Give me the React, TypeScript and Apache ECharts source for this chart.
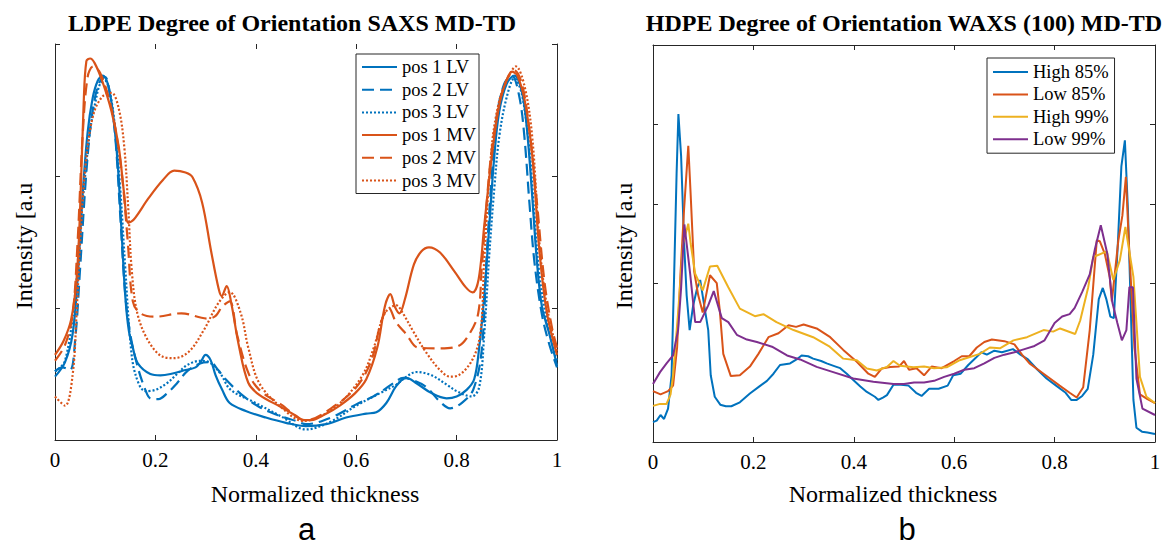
import React, { useEffect, useRef } from 'react';
import * as echarts from 'echarts';

// ---------- Panel a: LDPE SAXS (x: normalized thickness, y: intensity a.u.) ----------
const pos1LV: number[][] = [[0,0.48],[0.02,0.59],[0.035,0.80],[0.045,1.22],[0.055,1.86],[0.065,2.33],[0.075,2.59],[0.085,2.72],[0.095,2.76],[0.105,2.70],[0.115,2.49],[0.125,2.09],[0.132,1.62],[0.14,1.09],[0.147,0.83],[0.155,0.70],[0.165,0.58],[0.19,0.50],[0.21,0.49],[0.23,0.50],[0.26,0.53],[0.28,0.55],[0.29,0.59],[0.30,0.645],[0.31,0.605],[0.32,0.49],[0.333,0.38],[0.348,0.28],[0.38,0.22],[0.42,0.17],[0.46,0.13],[0.50,0.105],[0.54,0.12],[0.58,0.17],[0.62,0.20],[0.64,0.21],[0.66,0.28],[0.68,0.41],[0.70,0.47],[0.72,0.43],[0.75,0.355],[0.78,0.316],[0.80,0.33],[0.82,0.38],[0.835,0.46],[0.845,0.70],[0.855,1.09],[0.865,1.62],[0.875,2.145],[0.885,2.49],[0.90,2.70],[0.915,2.76],[0.93,2.64],[0.94,2.36],[0.95,1.88],[0.96,1.355],[0.97,1.01],[0.985,0.80],[1.0,0.565]];
const pos2LV: number[][] = [[0,0.52],[0.015,0.55],[0.03,0.53],[0.04,0.75],[0.05,1.3],[0.06,1.9],[0.07,2.35],[0.08,2.6],[0.09,2.72],[0.1,2.75],[0.11,2.6],[0.12,2.3],[0.13,1.7],[0.14,1.1],[0.15,0.8],[0.165,0.55],[0.18,0.38],[0.19,0.315],[0.206,0.31],[0.225,0.36],[0.243,0.43],[0.263,0.52],[0.289,0.58],[0.309,0.59],[0.325,0.53],[0.34,0.46],[0.37,0.35],[0.407,0.25],[0.45,0.18],[0.48,0.145],[0.5,0.12],[0.55,0.17],[0.6,0.27],[0.634,0.33],[0.655,0.38],[0.674,0.43],[0.694,0.47],[0.715,0.45],[0.74,0.40],[0.767,0.29],[0.787,0.24],[0.81,0.28],[0.833,0.38],[0.85,0.68],[0.86,1.4],[0.87,2.0],[0.88,2.45],[0.895,2.7],[0.91,2.76],[0.925,2.6],[0.935,2.3],[0.945,1.8],[0.955,1.35],[0.97,0.95],[0.985,0.72],[1.0,0.55]];
const pos3LV: number[][] = [[0,0.52],[0.02,0.6],[0.04,1.1],[0.05,1.6],[0.06,2.0],[0.07,2.35],[0.08,2.55],[0.09,2.7],[0.1,2.72],[0.11,2.62],[0.12,2.35],[0.13,1.9],[0.14,1.3],[0.15,0.75],[0.16,0.5],[0.18,0.37],[0.2,0.38],[0.223,0.43],[0.243,0.5],[0.263,0.567],[0.289,0.60],[0.309,0.585],[0.33,0.5],[0.35,0.38],[0.4,0.28],[0.45,0.18],[0.5,0.08],[0.55,0.14],[0.6,0.26],[0.65,0.36],[0.68,0.42],[0.7,0.48],[0.72,0.515],[0.75,0.49],[0.78,0.42],[0.8,0.37],[0.83,0.33],[0.845,0.4],[0.855,0.8],[0.865,1.4],[0.875,1.9],[0.885,2.3],[0.9,2.6],[0.915,2.74],[0.93,2.62],[0.945,2.2],[0.955,1.7],[0.965,1.25],[0.98,0.9],[1.0,0.6]];
const pos1MV: number[][] = [[0,0.645],[0.017,0.75],[0.032,0.91],[0.043,1.22],[0.05,1.75],[0.057,2.54],[0.0625,2.87],[0.07,2.89],[0.079,2.855],[0.094,2.72],[0.1125,2.49],[0.127,2.22],[0.138,1.855],[0.146,1.645],[0.157,1.67],[0.186,1.83],[0.215,1.97],[0.2375,2.04],[0.26,2.026],[0.274,1.99],[0.293,1.80],[0.311,1.43],[0.326,1.145],[0.332,1.09],[0.342,1.166],[0.351,1.04],[0.366,0.72],[0.385,0.434],[0.407,0.342],[0.45,0.25],[0.48,0.184],[0.495,0.15],[0.51,0.15],[0.539,0.197],[0.568,0.263],[0.598,0.355],[0.62,0.46],[0.642,0.70],[0.657,1.01],[0.668,1.105],[0.677,1.01],[0.686,0.96],[0.697,1.066],[0.715,1.33],[0.73,1.43],[0.745,1.46],[0.767,1.42],[0.796,1.276],[0.818,1.158],[0.832,1.118],[0.844,1.22],[0.855,1.62],[0.87,2.145],[0.885,2.54],[0.899,2.72],[0.91,2.79],[0.921,2.76],[0.936,2.565],[0.951,2.145],[0.965,1.43],[0.98,0.96],[1.0,0.645]];
const pos2MV: number[][] = [[0,0.6],[0.02,0.72],[0.035,0.95],[0.045,1.5],[0.055,2.3],[0.065,2.75],[0.076,2.83],[0.09,2.78],[0.11,2.55],[0.125,2.25],[0.135,1.95],[0.145,1.5],[0.155,1.05],[0.17,0.96],[0.2,0.934],[0.252,0.96],[0.304,0.92],[0.32,0.94],[0.333,1.01],[0.348,1.05],[0.3625,0.80],[0.385,0.51],[0.407,0.38],[0.45,0.27],[0.5,0.15],[0.55,0.24],[0.6,0.4],[0.63,0.6],[0.65,0.9],[0.665,1.0],[0.679,0.895],[0.7,0.8],[0.723,0.70],[0.767,0.694],[0.803,0.711],[0.826,0.807],[0.843,0.958],[0.85,1.3],[0.86,1.8],[0.87,2.2],[0.885,2.55],[0.9,2.73],[0.915,2.8],[0.93,2.7],[0.945,2.35],[0.96,1.8],[0.975,1.2],[0.99,0.85],[1.0,0.7]];
const pos3MV: number[][] = [[0,0.33],[0.02,0.26],[0.035,0.49],[0.043,0.96],[0.05,1.49],[0.061,2.09],[0.076,2.46],[0.094,2.6],[0.1125,2.63],[0.127,2.51],[0.138,2.22],[0.146,1.75],[0.153,1.28],[0.164,0.96],[0.186,0.75],[0.215,0.63],[0.2375,0.62],[0.267,0.67],[0.296,0.83],[0.326,1.04],[0.348,1.12],[0.37,0.96],[0.385,0.70],[0.407,0.43],[0.45,0.25],[0.495,0.145],[0.524,0.17],[0.568,0.28],[0.6125,0.49],[0.635,0.70],[0.657,0.96],[0.68,1.02],[0.693,0.96],[0.714,0.82],[0.74,0.66],[0.767,0.53],[0.787,0.48],[0.804,0.49],[0.833,0.62],[0.848,0.83],[0.855,1.36],[0.87,2.22],[0.885,2.57],[0.903,2.75],[0.918,2.83],[0.936,2.67],[0.951,2.28],[0.965,1.49],[0.98,1.01],[1.0,0.67]];

// ---------- Panel b: HDPE WAXS (100) ----------
const high85: number[][] = [[0,0.25],[0.0074,0.27],[0.015,0.34],[0.022,0.29],[0.03,0.42],[0.037,0.84],[0.042,2.07],[0.047,3.38],[0.0506,4.13],[0.056,3.6],[0.062,2.5],[0.067,1.85],[0.073,1.41],[0.08,1.72],[0.088,1.94],[0.094,2.04],[0.1,1.8],[0.11,1.41],[0.115,0.84],[0.123,0.57],[0.134,0.47],[0.145,0.45],[0.156,0.45],[0.173,0.50],[0.193,0.61],[0.212,0.70],[0.227,0.77],[0.24,0.86],[0.253,0.97],[0.273,0.99],[0.286,1.04],[0.296,1.09],[0.309,1.08],[0.319,1.05],[0.335,1.02],[0.346,0.99],[0.364,0.95],[0.373,0.93],[0.386,0.86],[0.399,0.78],[0.413,0.70],[0.426,0.63],[0.442,0.57],[0.449,0.53],[0.458,0.56],[0.466,0.59],[0.479,0.72],[0.494,0.72],[0.509,0.71],[0.524,0.62],[0.535,0.58],[0.55,0.67],[0.569,0.67],[0.587,0.71],[0.598,0.84],[0.613,0.86],[0.628,0.97],[0.643,1.06],[0.654,1.13],[0.665,1.10],[0.68,1.15],[0.695,1.13],[0.717,1.17],[0.732,1.10],[0.747,1.04],[0.766,0.91],[0.784,0.80],[0.803,0.71],[0.822,0.62],[0.833,0.53],[0.844,0.53],[0.855,0.58],[0.866,0.67],[0.877,1.10],[0.888,1.80],[0.896,1.94],[0.903,1.80],[0.911,1.58],[0.918,1.56],[0.926,2.50],[0.933,3.47],[0.94,3.80],[0.946,2.94],[0.952,1.63],[0.957,0.53],[0.963,0.18],[0.974,0.13],[0.985,0.12],[1.0,0.10]];
const low85: number[][] = [[0,0.64],[0.015,0.60],[0.03,0.64],[0.04,0.71],[0.048,1.19],[0.055,2.15],[0.062,2.94],[0.0703,3.73],[0.075,3.12],[0.082,2.15],[0.09,1.85],[0.099,1.63],[0.1135,2.10],[0.127,2.0],[0.133,1.66],[0.14,1.11],[0.155,0.83],[0.173,0.84],[0.193,0.95],[0.21,1.11],[0.23,1.32],[0.25,1.37],[0.27,1.47],[0.285,1.45],[0.3,1.48],[0.326,1.43],[0.353,1.32],[0.379,1.16],[0.406,1.01],[0.429,0.86],[0.442,0.82],[0.4555,0.925],[0.4725,0.945],[0.49,0.95],[0.5,1.02],[0.51,0.91],[0.525,0.93],[0.54,0.84],[0.555,0.95],[0.575,0.93],[0.6,1.02],[0.615,1.08],[0.63,1.08],[0.645,1.19],[0.66,1.26],[0.675,1.29],[0.7,1.27],[0.72,1.23],[0.735,1.10],[0.75,0.99],[0.778,0.86],[0.81,0.71],[0.83,0.62],[0.844,0.56],[0.857,0.69],[0.87,1.41],[0.884,2.54],[0.89,2.53],[0.9,2.37],[0.91,2.07],[0.914,1.77],[0.927,2.54],[0.935,2.85],[0.942,3.34],[0.948,2.5],[0.959,1.19],[0.97,0.6],[0.985,0.54],[1.0,0.49]];
const high99: number[][] = [[0,0.455],[0.014,0.48],[0.027,0.48],[0.035,0.6],[0.04,0.84],[0.05,1.63],[0.06,2.5],[0.0703,2.75],[0.075,2.5],[0.084,2.12],[0.099,1.91],[0.1135,2.21],[0.128,2.22],[0.15,1.95],[0.173,1.68],[0.203,1.585],[0.22,1.61],[0.246,1.51],[0.28,1.41],[0.319,1.32],[0.352,1.2],[0.379,1.05],[0.406,1.03],[0.426,0.925],[0.446,0.90],[0.466,0.946],[0.479,1.02],[0.492,0.96],[0.519,0.94],[0.54,0.95],[0.56,0.93],[0.585,0.94],[0.611,1.03],[0.651,1.11],[0.671,1.19],[0.691,1.18],[0.718,1.28],[0.745,1.32],[0.778,1.41],[0.797,1.39],[0.811,1.43],[0.841,1.36],[0.851,1.53],[0.867,1.95],[0.877,2.33],[0.904,2.40],[0.917,2.04],[0.93,2.29],[0.941,2.71],[0.957,2.08],[0.97,0.82],[0.983,0.57],[1.0,0.49]];
const low99: number[][] = [[0,0.73],[0.014,0.88],[0.027,0.99],[0.04,1.09],[0.05,1.41],[0.056,1.94],[0.0625,2.74],[0.074,2.12],[0.084,1.51],[0.094,1.51],[0.11,1.72],[0.121,1.90],[0.137,1.56],[0.15,1.51],[0.167,1.35],[0.187,1.29],[0.207,1.26],[0.237,1.20],[0.267,1.09],[0.293,1.04],[0.326,0.946],[0.359,0.88],[0.399,0.80],[0.439,0.76],[0.479,0.73],[0.5,0.73],[0.52,0.75],[0.54,0.75],[0.56,0.77],[0.58,0.82],[0.6,0.86],[0.62,0.91],[0.64,0.93],[0.66,0.99],[0.68,1.06],[0.7,1.10],[0.72,1.13],[0.74,1.17],[0.76,1.21],[0.78,1.28],[0.8,1.50],[0.815,1.58],[0.83,1.61],[0.84,1.69],[0.855,1.89],[0.87,2.11],[0.88,2.42],[0.892,2.73],[0.905,2.37],[0.915,1.76],[0.925,1.50],[0.934,1.28],[0.943,1.41],[0.949,1.95],[0.956,1.95],[0.963,0.8],[0.975,0.42],[1.0,0.34]];

const xTicks = [0, 0.2, 0.4, 0.6, 0.8, 1];
const titleA = 'LDPE Degree of Orientation SAXS MD-TD';
const titleB = 'HDPE Degree of Orientation WAXS (100) MD-TD';
const xName = 'Normalized thickness';
const yName = 'Intensity [a.u';

const BLUE = '#0072BD';
const ORANGE = '#D95319';
const YELLOW = '#EDB120';
const PURPLE = '#7E2F8E';
const SERIF = '"Liberation Serif", "Times New Roman", serif';
const AX = '#262626';

const DASH = [12, 6];
const DOT = [2, 2];

export default function App() {
  const ref = useRef<HTMLDivElement>(null);
  useEffect(() => {
    const chart = echarts.init(ref.current!, null, { renderer: 'svg' });
    const tickFmt = (v: number) => {
      const t = xTicks.find((k) => Math.abs(k - v) < 1e-6);
      return t === undefined ? '' : (t === 0 ? '0' : t === 1 ? '1' : t.toFixed(1));
    };
    const xAxisBase = (grid: number, pos: 'top' | 'bottom', line: boolean, labels: boolean) => ({
      type: 'value', gridIndex: grid, position: pos, min: 0, max: 1, interval: 0.2,
      splitLine: { show: false },
      axisLine: { show: line, onZero: false, lineStyle: { color: AX, width: 1 } },
      axisTick: { show: true, inside: true, length: 5, lineStyle: { color: AX } },
      axisLabel: { show: labels, formatter: tickFmt, fontFamily: SERIF, fontSize: 21, color: '#000', margin: 9 },
    });
    const yAxisBase = (grid: number, pos: 'left' | 'right', max: number) => ({
      type: 'value', gridIndex: grid, position: pos, min: 0, max, interval: 1,
      splitLine: { show: false },
      axisLine: { show: true, onZero: false, lineStyle: { color: AX, width: 1 } },
      axisTick: { show: true, inside: true, length: 5, lineStyle: { color: AX } },
      axisLabel: { show: false },
    });
    const line = (name: string, data: number[][], color: string, type: any, xi: number, yi: number, smooth: number | boolean, width: number) => ({
      type: 'line', name, data, xAxisIndex: xi, yAxisIndex: yi, symbol: 'none', showSymbol: false, smooth,
      lineStyle: { color, width, type, cap: 'butt' }, itemStyle: { color }, z: 3,
    });
    const legendBase = {
      orient: 'vertical', itemWidth: 35, itemHeight: 19, selectedMode: false,
      borderColor: AX, borderWidth: 1, backgroundColor: '#fff',
      itemStyle: { opacity: 0 },
      textStyle: { fontFamily: SERIF, fontSize: 18.5, color: '#000', lineHeight: 19 },
    };
    const txt = (text: string, x: number, y: number, size: number, opts: any = {}) => ({
      type: 'text', x, y, rotation: opts.rotation || 0, z: 10,
      style: {
        text, fill: '#000', fontSize: size, fontFamily: opts.family || SERIF, fontWeight: opts.weight || 'normal',
        lineHeight: opts.lineHeight || undefined,
        textAlign: 'center', textVerticalAlign: 'middle', align: 'center', verticalAlign: 'middle',
      },
    });
    const option: any = {
      animation: false,
      backgroundColor: '#fff',
      grid: [
        { left: 55, top: 44, width: 502, height: 396 },
        { left: 653, top: 45, width: 502, height: 397 },
      ],
      xAxis: [
        xAxisBase(0, 'bottom', true, true),
        xAxisBase(0, 'top', false, false),
        xAxisBase(1, 'bottom', true, true),
        xAxisBase(1, 'top', true, false),
      ],
      yAxis: [
        yAxisBase(0, 'left', 3),
        yAxisBase(0, 'right', 3),
        yAxisBase(1, 'left', 5),
        yAxisBase(1, 'right', 5),
      ],
      legend: [
        { ...legendBase, left: 356, top: 54, itemGap: 3.7, padding: [3.5, 3, 3.5, 5],
          data: ['pos 1 LV', 'pos 2 LV', 'pos 3 LV', 'pos 1 MV', 'pos 2 MV', 'pos 3 MV'] },
        { ...legendBase, left: 987, top: 58, itemGap: 3.4, padding: [4.5, 6, 4.5, 5],
          data: ['High 85%', 'Low 85%', 'High 99%', 'Low 99%'] },
      ],
      series: [
        line('pos 1 LV', pos1LV, BLUE, 'solid', 0, 0, 0.35, 2.2),
        line('pos 2 LV', pos2LV, BLUE, DASH, 0, 0, 0.35, 2.2),
        line('pos 3 LV', pos3LV, BLUE, DOT, 0, 0, 0.35, 2.2),
        line('pos 1 MV', pos1MV, ORANGE, 'solid', 0, 0, 0.35, 2.2),
        line('pos 2 MV', pos2MV, ORANGE, DASH, 0, 0, 0.35, 2.2),
        line('pos 3 MV', pos3MV, ORANGE, DOT, 0, 0, 0.35, 2.2),
        line('High 85%', high85, BLUE, 'solid', 2, 2, false, 2),
        line('Low 85%', low85, ORANGE, 'solid', 2, 2, false, 2),
        line('High 99%', high99, YELLOW, 'solid', 2, 2, false, 2),
        line('Low 99%', low99, PURPLE, 'solid', 2, 2, false, 2),
      ],
      graphic: [
        txt(titleA, 292, 23, 24, { weight: 'bold' }),
        txt(titleB, 904, 23, 24, { weight: 'bold' }),
        txt(xName, 315, 494, 24),
        txt(xName, 893, 494, 24),
        txt(yName, 24, 246, 24, { rotation: Math.PI / 2 }),
        txt(yName, 624, 246, 24, { rotation: Math.PI / 2 }),
        txt('a', 306.5, 529, 31, { family: '"Liberation Sans", Arial, sans-serif', lineHeight: 26 }),
        txt('b', 907, 529, 31, { family: '"Liberation Sans", Arial, sans-serif', lineHeight: 26 }),
      ],
    };
    chart.setOption(option);
    return () => chart.dispose();
  }, []);
  return <div ref={ref} style={{ position: 'absolute', left: 0, top: 0, width: 1165, height: 545, background: '#fff' }} />;
}
